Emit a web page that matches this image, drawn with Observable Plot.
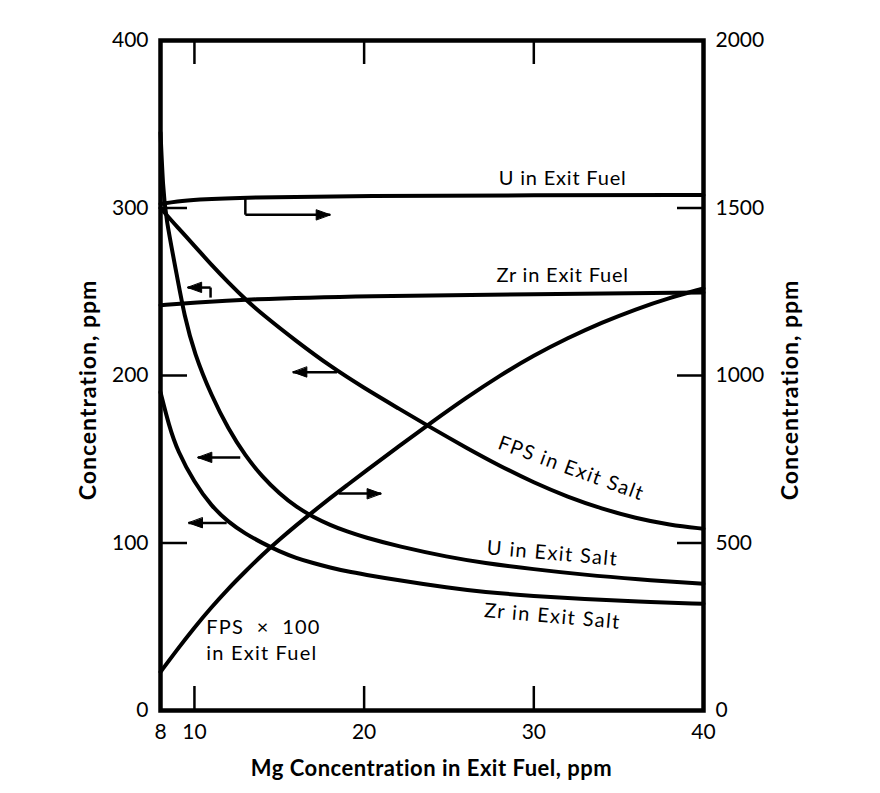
<!DOCTYPE html>
<html><head><meta charset="utf-8">
<script src="https://cdn.jsdelivr.net/npm/d3@7"></script>
<script src="https://cdn.jsdelivr.net/npm/@observablehq/plot@0.6"></script>
<style>
body{margin:0;background:#fff}
svg{display:block}
.clabel text{letter-spacing:1.4px}
.hlabel text{letter-spacing:0.8px}
.flabel text{letter-spacing:1.2px;white-space:pre}
</style>
</head><body><div id="chart"></div>
<script>
// x = Mg concentration in exit fuel, ppm
// Left-axis series (ppm, 0-400)
const zrFuelX = [8, 10, 13, 20, 30, 40];
const zrFuelY = [242, 243.5, 245.5, 247.5, 248.6, 249.5];
const fpsSaltX = [8, 9, 10, 11, 12, 13, 14, 16, 18, 20, 22, 24, 26, 28, 30, 32, 34, 36, 38, 40];
const fpsSaltY = [300, 288.5, 277.5, 266, 255.5, 245.5, 236.5, 220.5, 205.5, 192.5, 180.5, 168.5, 157, 146, 136, 127.5, 120.5, 114.8, 110.8, 108.5];
const uSaltX = [8, 8.15, 8.3, 9, 9.4, 10, 11, 12, 13, 14, 15, 16, 17, 18, 19, 20, 22, 25, 27, 30, 33, 36, 40];
const uSaltY = [345, 312, 295, 258, 236, 213, 188, 168, 152, 139.5, 129.5, 121.5, 115.5, 110.7, 106.8, 103.5, 98, 91.5, 88.2, 84.3, 81, 78.4, 75.6];
const zrSaltX = [8, 8.5, 9, 10, 11, 12, 13, 14, 15, 16, 17, 18, 19, 20, 22, 25, 27, 30, 33, 36, 40];
const zrSaltY = [190, 170, 155, 136, 122, 112.5, 105.5, 100, 95, 91, 88, 85.3, 83, 81.2, 77.8, 73.3, 70.8, 68.3, 66.5, 65, 63.7];
// Right-axis series (ppm, 0-2000)
const uFuelX = [8, 9, 10, 13, 20, 30, 40];
const uFuelY = [1512, 1520, 1525, 1532, 1536, 1538, 1539];
const fpsFuelX = [8, 9, 10, 11, 12, 13, 14, 15, 16, 17, 18, 19, 20, 22, 24, 26, 28, 30, 32, 34, 36, 38, 40];
const fpsFuelY = [115, 183, 248, 308, 364, 415, 465, 510, 553, 594, 634, 673, 711, 787, 861, 933, 1000, 1060, 1112, 1158, 1198, 1232, 1260];

const rightFactor = 5; // right axis = 5 x left axis

// ticks
const xTickLabels = [8, 10, 20, 30, 40];
const xInnerTicks = [10, 20, 30];
const yTickLabels = [0, 100, 200, 300, 400];
const yInnerTicks = [100, 200, 300];

// curve labels (data units, left axis)
const hLabelText = ["U in Exit Fuel", "Zr in Exit Fuel"];
const hLabelX = [31.7, 31.7];
const hLabelY = [317.6, 259.7];
const rLabelText = ["FPS in Exit Salt", "U in Exit Salt", "Zr in Exit Salt"];
const rLabelX = [32.2, 31.1, 31.1];
const rLabelY = [144.5, 93.7, 56.1];
const rLabelRot = [20, 5, 5];
const fpsFuelLabel = ["FPS \u00A0\u00D7\u00A0 100", "in Exit Fuel"];
const fpsFuelLabelX = [10.7, 10.7];
const fpsFuelLabelY = [49.6, 34];

// arrow annotations (left-axis units)
const stubs = [
  {x1: 13.0, y1: 306, x2: 13.0, y2: 296},
  {x1: 10.95, y1: 246.5, x2: 10.95, y2: 252.5}
];
const arrows = [
  {x1: 13.0, y1: 296, x2: 18.0, y2: 296, dir: 90},
  {x1: 10.95, y1: 252.5, x2: 9.6, y2: 252.5, dir: -90},
  {x1: 18.4, y1: 202, x2: 15.8, y2: 202, dir: -90},
  {x1: 12.7, y1: 151, x2: 10.2, y2: 151, dir: -90},
  {x1: 11.9, y1: 112, x2: 9.65, y2: 112, dir: -90},
  {x1: 18.5, y1: 129.5, x2: 21.0, y2: 129.5, dir: 90}
];

const toPts = (xs, ys, k = 1) => xs.map((x, i) => ({x, y: ys[i] / k}));
const series = [
  toPts(zrFuelX, zrFuelY), toPts(fpsSaltX, fpsSaltY), toPts(uSaltX, uSaltY),
  toPts(zrSaltX, zrSaltY), toPts(uFuelX, uFuelY, rightFactor), toPts(fpsFuelX, fpsFuelY, rightFactor)
];
const hLabels = hLabelText.map((t, i) => ({t, x: hLabelX[i], y: hLabelY[i]}));
const rLabels = rLabelText.map((t, i) => ({t, x: rLabelX[i], y: rLabelY[i], r: rLabelRot[i]}));
const fLabels = fpsFuelLabel.map((t, i) => ({t, x: fpsFuelLabelX[i], y: fpsFuelLabelY[i]}));

const W = 880, H = 793, mT = 40, mR = 177, mB = 83, mL = 160;
const innerW = W - mL - mR, innerH = H - mT - mB;
const font = "Lato, 'Open Sans', sans-serif";

const triangleHead = {
  draw(context, l) {
    context.moveTo(0, -l);
    context.lineTo(-5, 0);
    context.lineTo(5, 0);
    context.closePath();
  }
};

const chart = Plot.plot({
  width: W, height: H,
  marginTop: mT, marginRight: mR, marginBottom: mB, marginLeft: mL,
  x: {domain: [8, 40]},
  y: {domain: [0, 400]},
  style: {fontFamily: font, background: "#fff", color: "#000"},
  marks: [
    ...series.map(s => Plot.line(s, {x: "x", y: "y", curve: "basis", stroke: "#000", strokeWidth: 4})),
    Plot.link(stubs, {x1: "x1", y1: "y1", x2: "x2", y2: "y2", stroke: "#000", strokeWidth: 2.5}),
    Plot.link(arrows, {x1: "x1", y1: "y1", x2: "x2", y2: "y2", stroke: "#000", strokeWidth: 2.5}),
    Plot.vector(arrows, {x: "x2", y: "y2", rotate: "dir", length: 14, anchor: "end", shape: triangleHead, fill: "#000", stroke: "#000", strokeWidth: 1}),
    Plot.text(hLabels, {x: "x", y: "y", text: "t", fontSize: 20, fill: "#000", className: "hlabel"}),
    Plot.text(rLabels, {x: "x", y: "y", text: "t", rotate: "r", fontSize: 20, fill: "#000", className: "clabel"}),
    Plot.text(fLabels, {x: "x", y: "y", text: "t", fontSize: 20, fill: "#000", textAnchor: "start", className: "flabel"}),
    Plot.tickX(xInnerTicks, {x: d => d, insetTop: innerH - 24, stroke: "#000", strokeWidth: 2.5}),
    Plot.tickX(xInnerTicks, {x: d => d, insetBottom: innerH - 24, stroke: "#000", strokeWidth: 2.5}),
    Plot.tickY(yInnerTicks, {y: d => d, insetRight: innerW - 27, stroke: "#000", strokeWidth: 2.5}),
    Plot.tickY(yInnerTicks, {y: d => d, insetLeft: innerW - 26, stroke: "#000", strokeWidth: 2.5}),
    Plot.frame({stroke: "#000", strokeWidth: 4.5}),
    Plot.axisX({ticks: xTickLabels, tickSize: 0, tickPadding: 14, fontSize: 21, label: null}),
    Plot.axisY({anchor: "left", ticks: yTickLabels, tickSize: 0, tickPadding: 12, fontSize: 21, label: null}),
    Plot.axisY({anchor: "right", ticks: yTickLabels, tickSize: 0, tickPadding: 12, fontSize: 21, label: null, tickFormat: d => String(d * rightFactor)})
  ]
});
document.getElementById("chart").appendChild(chart);

// axis titles
const svg = d3.select(chart);
svg.append("text").text("Mg Concentration in Exit Fuel, ppm")
  .attr("x", mL + innerW / 2).attr("y", 768).attr("dy", "0.35em")
  .attr("text-anchor", "middle").attr("font-size", 22).attr("letter-spacing", "0.5px")
  .attr("font-weight", "bold").attr("font-family", font);
svg.append("text").text("Concentration, ppm")
  .attr("transform", `translate(88,390) rotate(-90)`).attr("dy", "0.35em")
  .attr("text-anchor", "middle").attr("font-size", 23).attr("letter-spacing", "1px")
  .attr("font-weight", "bold").attr("font-family", font);
svg.append("text").text("Concentration, ppm")
  .attr("transform", `translate(790,390) rotate(-90)`).attr("dy", "0.35em")
  .attr("text-anchor", "middle").attr("font-size", 23).attr("letter-spacing", "1px")
  .attr("font-weight", "bold").attr("font-family", font);
</script>
</body></html>
